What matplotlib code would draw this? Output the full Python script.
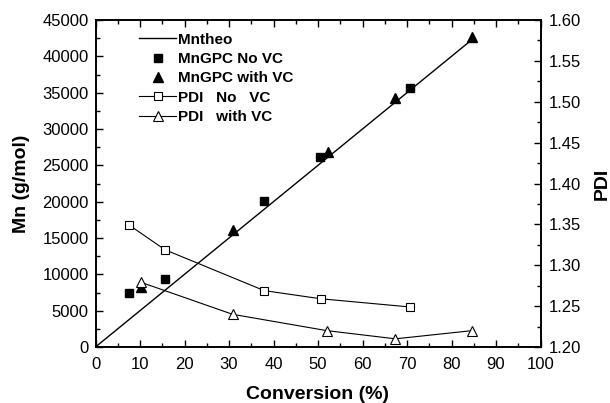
import matplotlib
matplotlib.use("Agg")
import matplotlib.pyplot as plt
from matplotlib.ticker import MultipleLocator, FormatStrFormatter

plt.rcParams['font.family'] = ['Liberation Sans', 'DejaVu Sans']

theo_x = [0, 85]
theo_y = [0, 42500]

novc_x = [7.6, 15.6, 37.9, 50.4, 70.6]
novc_mn = [7400, 9400, 20100, 26100, 35700]

vc_x = [10.3, 30.8, 52.2, 67.4, 84.6]
vc_mn = [8300, 16100, 26900, 34200, 42700]

pdi_novc_x = [7.6, 15.6, 37.9, 50.6, 70.6]
pdi_novc = [1.349, 1.319, 1.269, 1.259, 1.249]

pdi_vc_x = [10.3, 30.8, 52.0, 67.4, 84.6]
pdi_vc = [1.279, 1.240, 1.220, 1.210, 1.220]

fig = plt.figure(figsize=(6.1, 4.03), dpi=100)
ax = fig.add_axes([95.5/610, 1-347/403, (540.5-95.5)/610, (347-20)/403])
ax2 = ax.twinx()

l1, = ax.plot(theo_x, theo_y, color='black', lw=1.0, label='Mntheo')
l2, = ax.plot(novc_x, novc_mn, 's', color='black', ms=5.5, label='MnGPC No VC')
l3, = ax.plot(vc_x, vc_mn, '^', color='black', ms=7, label='MnGPC with VC')
l4, = ax2.plot(pdi_novc_x, pdi_novc, '-s', color='black', lw=0.8, ms=6,
               mfc='white', mew=0.8, label='PDI   No   VC')
l5, = ax2.plot(pdi_vc_x, pdi_vc, '-^', color='black', lw=0.8, ms=7,
               mfc='white', mew=0.8, label='PDI   with VC')

ax.set_xlim(0, 100)
ax.set_ylim(0, 45000)
ax2.set_ylim(1.20, 1.60)

ax.xaxis.set_major_locator(MultipleLocator(10))
ax.xaxis.set_minor_locator(MultipleLocator(5))
ax.yaxis.set_major_locator(MultipleLocator(5000))
ax.yaxis.set_minor_locator(MultipleLocator(2500))
ax2.yaxis.set_major_locator(MultipleLocator(0.05))
ax2.yaxis.set_minor_locator(MultipleLocator(0.025))
ax2.yaxis.set_major_formatter(FormatStrFormatter('%.2f'))

ax.tick_params(which='both', direction='in', top=True, right=False, labelsize=12)
ax.tick_params(which='major', length=5, width=1, pad=5)
ax.tick_params(axis='x', which='major', pad=7)
ax.tick_params(which='minor', length=3, width=1)
ax2.tick_params(which='both', direction='in', labelsize=12)
ax2.tick_params(which='major', length=5, width=1, pad=6)
ax2.tick_params(which='minor', length=3, width=1)

for a in (ax, ax2):
    for s in a.spines.values():
        s.set_linewidth(1.2)

ax.set_xlabel('Conversion (%)', fontsize=14, fontweight='bold', labelpad=10)
ax.set_ylabel('Mn (g/mol)', fontsize=14, fontweight='bold', labelpad=9)
ax2.set_ylabel('PDI', fontsize=14, fontweight='bold', labelpad=9)

leg = ax.legend(handles=[l1, l2, l3, l4, l5], loc='upper left',
                bbox_to_anchor=(0.085, 0.98), frameon=False,
                prop={'weight': 'bold', 'size': 11}, handlelength=2.4,
                handletextpad=0.1, labelspacing=0.35, borderaxespad=0)

fig.savefig('out.png', dpi=100)
